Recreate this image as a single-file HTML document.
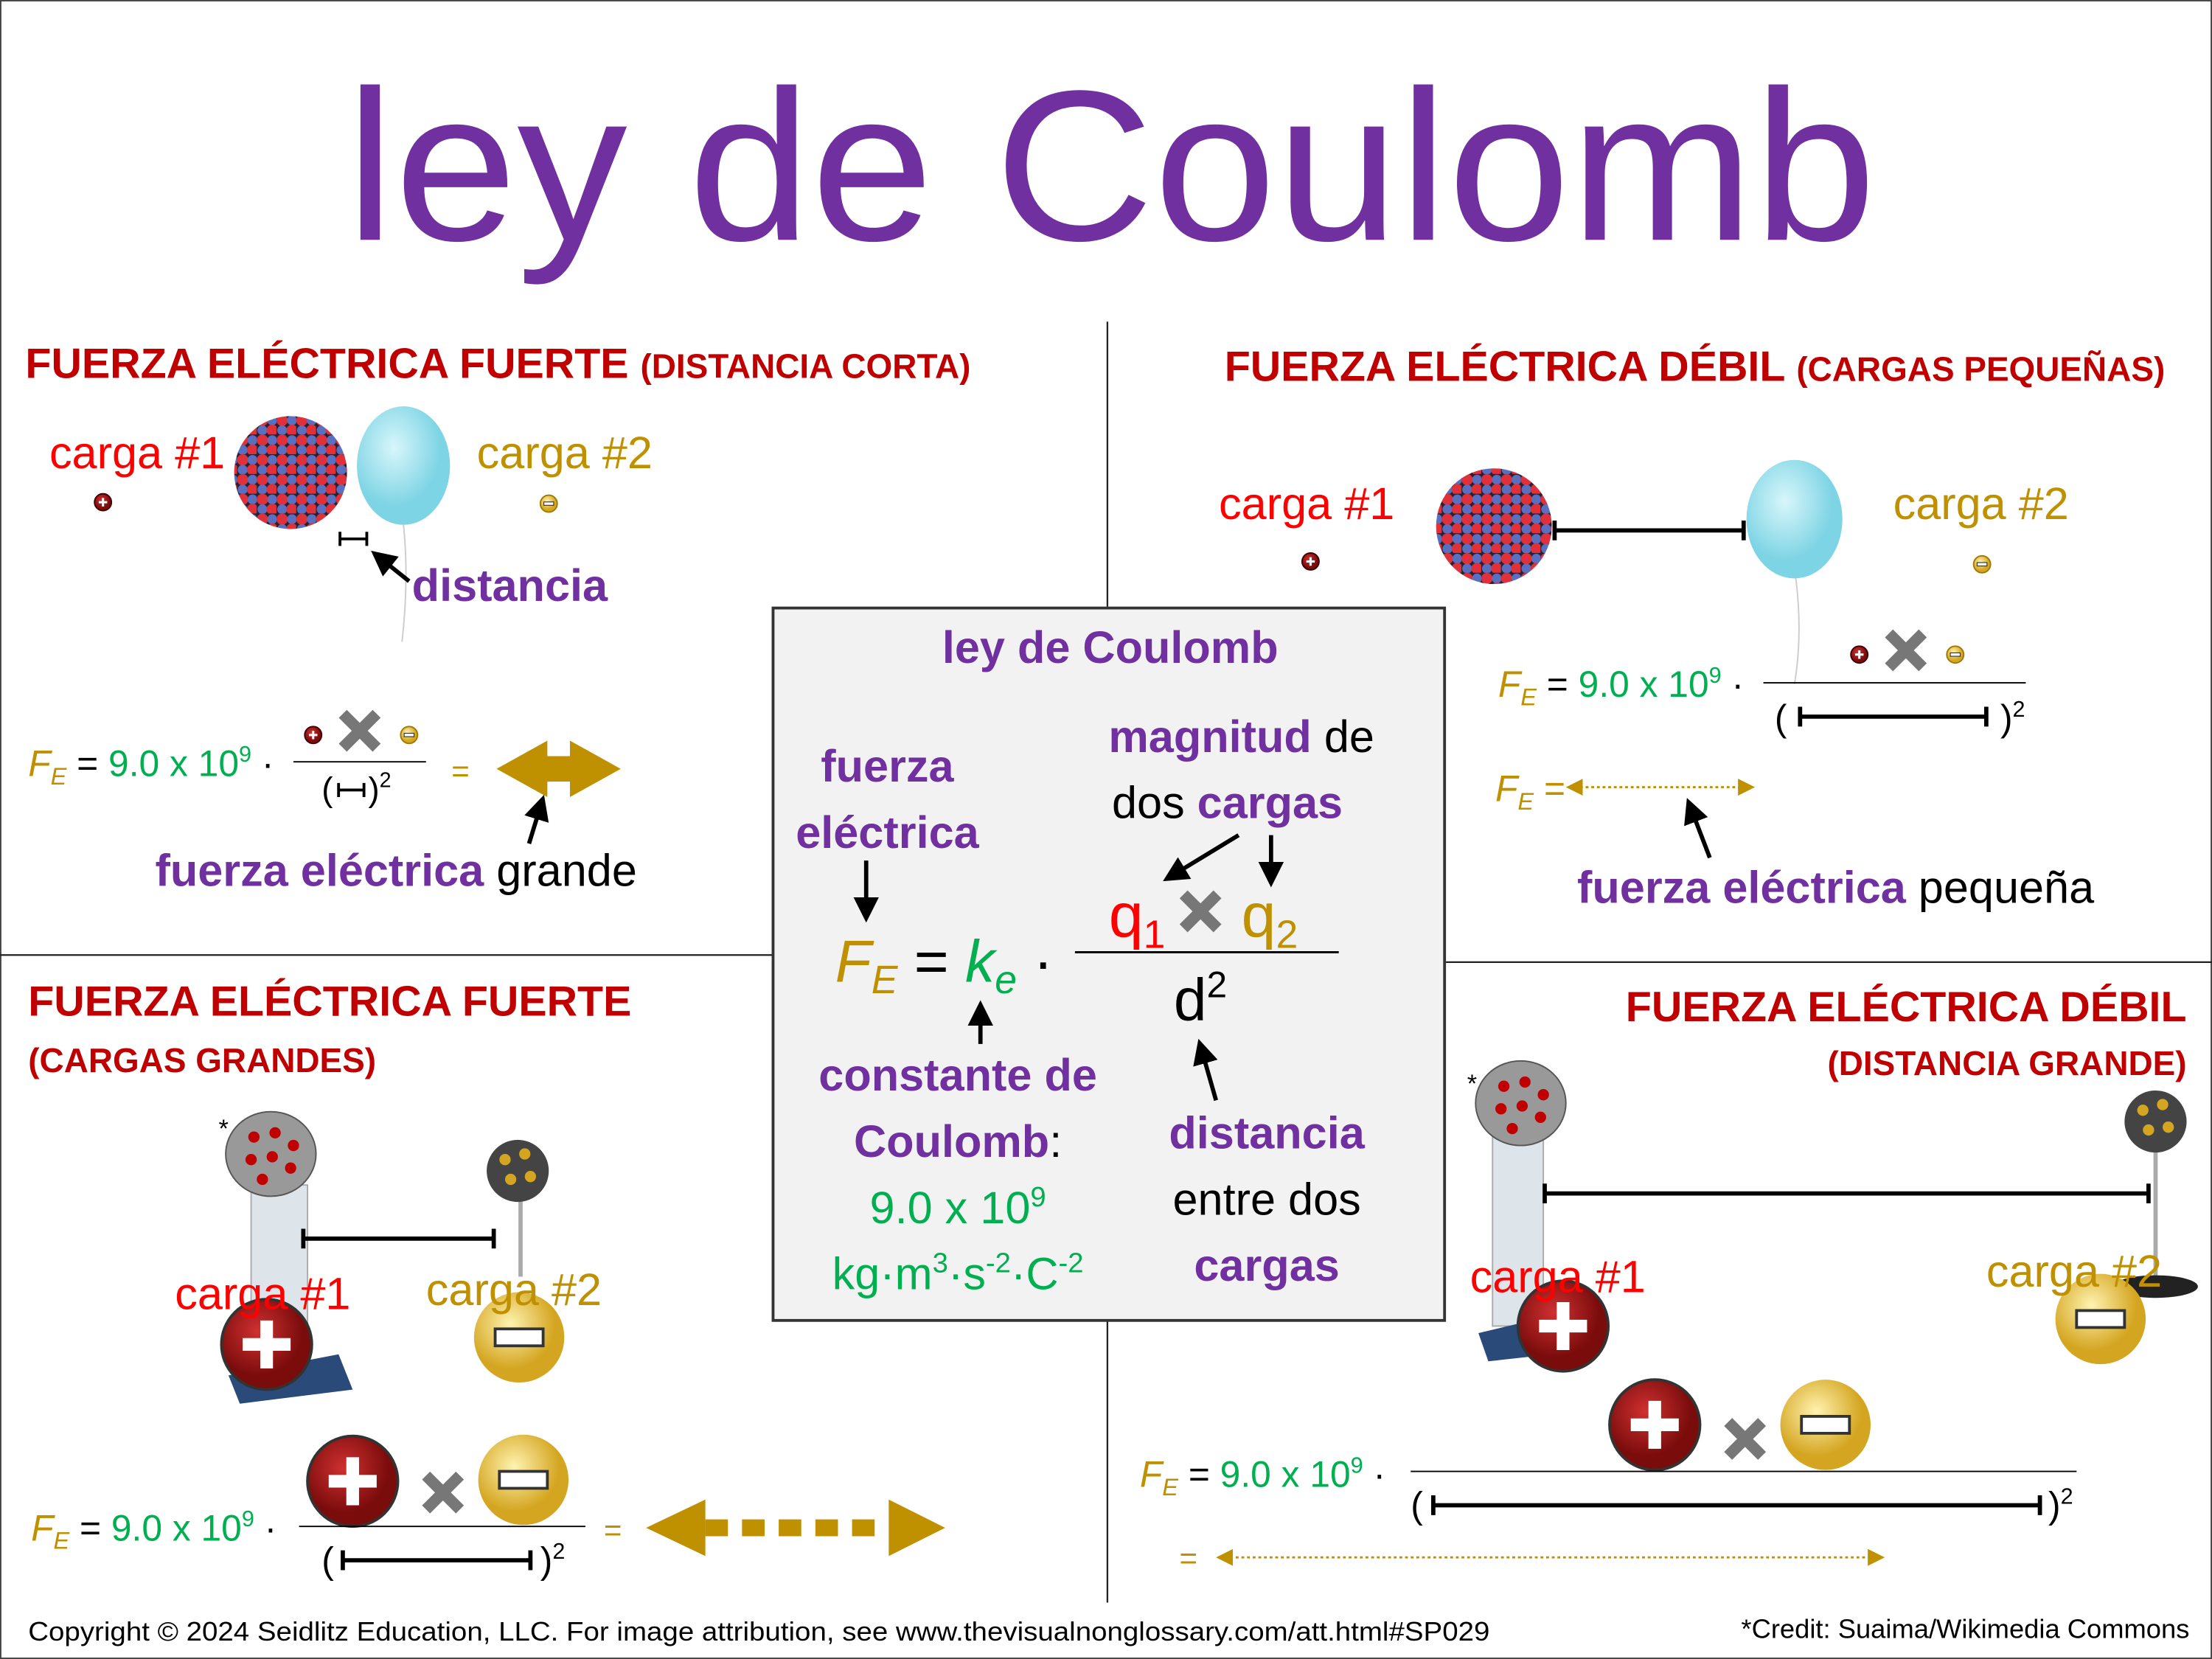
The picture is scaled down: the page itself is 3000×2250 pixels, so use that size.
<!DOCTYPE html>
<html><head><meta charset="utf-8"><style>
html,body{margin:0;padding:0;background:#fff}
svg{display:block}
text{font-family:"Liberation Sans",sans-serif}
</style></head><body>
<svg width="3000" height="2250" viewBox="0 0 1568 1176" xmlns="http://www.w3.org/2000/svg">
<defs>
<pattern id="mol" width="14" height="14" patternUnits="userSpaceOnUse">
<rect width="14" height="14" fill="#223"/>
<circle cx="4" cy="4" r="4" fill="#e0303a"/><circle cx="11" cy="4" r="3.5" fill="#5a6fc0"/>
<circle cx="4" cy="11" r="3.5" fill="#5a6fc0"/><circle cx="11" cy="11" r="4" fill="#e0303a"/>
</pattern>
<radialGradient id="gold" cx="40%" cy="35%"><stop offset="0" stop-color="#fff3b0"/><stop offset="1" stop-color="#d4a520"/></radialGradient>
<radialGradient id="redb" cx="40%" cy="35%"><stop offset="0" stop-color="#d03030"/><stop offset="1" stop-color="#7a0c0c"/></radialGradient>
<radialGradient id="bal" cx="40%" cy="35%"><stop offset="0" stop-color="#d8f6fb"/><stop offset="1" stop-color="#7dd4e4"/></radialGradient>
<marker id="ah" markerWidth="6" markerHeight="6" refX="3" refY="3" orient="auto"><path d="M0,0L6,3L0,6z" fill="#000"/></marker>
<marker id="gh" markerWidth="8" markerHeight="8" refX="4" refY="4" orient="auto"><path d="M0,0L8,4L0,8z" fill="#bf9000"/></marker>
<marker id="gt" markerWidth="8" markerHeight="8" refX="4" refY="4" orient="auto-start-reverse"><path d="M0,0L8,4L0,8z" fill="#bf9000"/></marker>
<g id="plus"><circle r="6" fill="url(#redb)" stroke="#400" stroke-width="1"/><path d="M-3,0H3M0,-3V3" stroke="#fff" stroke-width="1.6"/></g>
<g id="minus"><circle r="6" fill="url(#gold)" stroke="#a07a00" stroke-width="1"/><rect x="-3.5" y="-1.2" width="7" height="2.4" fill="#fff" stroke="#333" stroke-width=".6"/></g>
<g id="bplus"><circle r="32" fill="url(#redb)" stroke="#333" stroke-width="2"/><path d="M-17,0H17M0,-17V17" stroke="#fff" stroke-width="9"/></g>
<g id="bminus"><circle r="32" fill="url(#gold)"/><rect x="-17" y="-6" width="34" height="12" fill="#fff" stroke="#333" stroke-width="2"/></g>
<g id="x"><path d="M-12,-12L12,12M12,-12L-12,12" stroke="#777" stroke-width="8"/></g>
</defs>
<rect x="0.5" y="0.5" width="1567" height="1175" fill="#fff" stroke="#444"/>
<text x="245" y="170" font-size="152" fill="#7030a0" textLength="1085" lengthAdjust="spacingAndGlyphs">ley de Coulomb</text>
<path d="M785,228V430M785,936V1136M0,677H548M1025,682H1568" stroke="#222" stroke-width="1.2"/>

<!-- TOP LEFT -->
<text x="18" y="268" font-size="30" font-weight="bold" fill="#c00000">FUERZA ELÉCTRICA FUERTE <tspan font-size="24">(DISTANCIA CORTA)</tspan></text>
<text x="35" y="332" font-size="32" fill="#f00">carga #1</text>
<text x="338" y="332" font-size="32" fill="#bf9000">carga #2</text>
<use href="#plus" x="73" y="356"/><use href="#minus" x="389" y="357"/>
<circle cx="206" cy="335" r="40" fill="url(#mol)"/>
<ellipse cx="286" cy="330" rx="33" ry="42" fill="url(#bal)"/>
<path d="M286,372Q290,410 285,455" stroke="#ccc" fill="none"/>
<path d="M241,382H260M241,377V387M260,377V387" stroke="#000" stroke-width="2"/>
<path d="M290,412L270,396" stroke="#000" stroke-width="3" marker-end="url(#ah)"/>
<text x="292" y="426" font-size="32" font-weight="bold" fill="#7030a0">distancia</text>
<text x="20" y="550" font-size="26"><tspan fill="#bf9000" font-style="italic">F<tspan font-size="17" dy="6">E</tspan></tspan><tspan dy="-6"> = </tspan><tspan fill="#00b050">9.0 x 10<tspan font-size="16" dy="-10">9</tspan></tspan><tspan dy="10"> ·</tspan></text>
<use href="#plus" x="222" y="521"/><use href="#x" x="255" y="518"/><use href="#minus" x="290" y="521"/>
<path d="M208,540H302" stroke="#000"/>
<text x="228" y="568" font-size="24">(</text>
<path d="M240,560H258M240,555V565M258,555V565" stroke="#000" stroke-width="2"/>
<text x="261" y="568" font-size="24">)<tspan font-size="15" dy="-10">2</tspan></text>
<text x="320" y="554" font-size="22" fill="#bf9000">=</text>
<path d="M352,545L388,525V536H404V525L440,545L404,565V554H388V565Z" fill="#bf9000"/>
<path d="M375,598L383,572" stroke="#000" stroke-width="3" marker-end="url(#ah)"/>
<text x="110" y="628" font-size="32"><tspan fill="#7030a0" font-weight="bold">fuerza eléctrica</tspan> grande</text>

<!-- TOP RIGHT -->
<text x="868" y="270" font-size="30" font-weight="bold" fill="#c00000">FUERZA ELÉCTRICA DÉBIL <tspan font-size="24">(CARGAS PEQUEÑAS)</tspan></text>
<text x="864" y="368" font-size="32" fill="#f00">carga #1</text>
<text x="1342" y="368" font-size="32" fill="#bf9000">carga #2</text>
<use href="#plus" x="929" y="398"/><use href="#minus" x="1405" y="400"/>
<circle cx="1059" cy="373" r="41" fill="url(#mol)"/>
<ellipse cx="1272" cy="368" rx="34" ry="42" fill="url(#bal)"/>
<path d="M1273,410Q1278,450 1272,485" stroke="#ccc" fill="none"/>
<path d="M1102,376H1236M1102,369V383M1236,369V383" stroke="#000" stroke-width="3"/>
<text x="1062" y="494" font-size="26"><tspan fill="#bf9000" font-style="italic">F<tspan font-size="17" dy="6">E</tspan></tspan><tspan dy="-6"> = </tspan><tspan fill="#00b050">9.0 x 10<tspan font-size="16" dy="-10">9</tspan></tspan><tspan dy="10"> ·</tspan></text>
<use href="#plus" x="1318" y="464"/><use href="#x" x="1351" y="461"/><use href="#minus" x="1386" y="464"/>
<path d="M1250,484H1436" stroke="#000"/>
<text x="1258" y="518" font-size="26">(</text>
<path d="M1276,508H1408M1276,501V515M1408,501V515" stroke="#000" stroke-width="3"/>
<text x="1418" y="518" font-size="26">)<tspan font-size="16" dy="-10">2</tspan></text>
<text x="1060" y="568" font-size="26"><tspan fill="#bf9000" font-style="italic">F<tspan font-size="17" dy="6">E</tspan></tspan><tspan fill="#bf9000" dy="-6"> =</tspan></text>
<path d="M1116,558H1238" stroke="#bf9000" stroke-width="1.5" stroke-dasharray="2,2" marker-start="url(#gt)" marker-end="url(#gh)"/>
<path d="M1212,608L1199,574" stroke="#000" stroke-width="3" marker-end="url(#ah)"/>
<text x="1118" y="640" font-size="32"><tspan fill="#7030a0" font-weight="bold">fuerza eléctrica</tspan> pequeña</text>

<!-- CENTER BOX -->
<rect x="548" y="431" width="476" height="505" fill="#f2f2f2" stroke="#333" stroke-width="2"/>
<g font-size="32" text-anchor="middle">
<text x="787" y="470" fill="#7030a0" font-weight="bold">ley de Coulomb</text>
<text x="629" y="554" fill="#7030a0" font-weight="bold">fuerza</text>
<text x="629" y="601" fill="#7030a0" font-weight="bold">eléctrica</text>
<text x="880" y="533"><tspan fill="#7030a0" font-weight="bold">magnitud</tspan> de</text>
<text x="870" y="580">dos <tspan fill="#7030a0" font-weight="bold">cargas</tspan></text>
<text x="679" y="773" fill="#7030a0" font-weight="bold">constante de</text>
<text x="679" y="820"><tspan fill="#7030a0" font-weight="bold">Coulomb</tspan>:</text>
<text x="679" y="867" fill="#00b050">9.0 x 10<tspan font-size="20" dy="-12">9</tspan></text>
<text x="679" y="914" fill="#00b050">kg·m<tspan font-size="20" dy="-12">3</tspan><tspan dy="12">·s</tspan><tspan font-size="20" dy="-12">-2</tspan><tspan dy="12">·C</tspan><tspan font-size="20" dy="-12">-2</tspan></text>
<text x="898" y="814" fill="#7030a0" font-weight="bold">distancia</text>
<text x="898" y="861">entre dos</text>
<text x="898" y="908" fill="#7030a0" font-weight="bold">cargas</text>
</g>
<text x="592" y="696" font-size="42"><tspan fill="#bf9000" font-style="italic">F<tspan font-size="28" dy="8">E</tspan></tspan><tspan dy="-8"> = </tspan><tspan fill="#00b050" font-style="italic">k<tspan font-size="28" dy="8">e</tspan></tspan><tspan dy="-8"> ·</tspan></text>
<text x="786" y="664" font-size="44" fill="#f00">q<tspan font-size="28" dy="8">1</tspan></text>
<use href="#x" x="851" y="646"/>
<text x="880" y="664" font-size="44" fill="#bf9000">q<tspan font-size="28" dy="8">2</tspan></text>
<path d="M762,675H949" stroke="#000" stroke-width="1.5"/>
<text x="832" y="723" font-size="42">d<tspan font-size="26" dy="-16">2</tspan></text>
<g stroke="#000" stroke-width="3">
<path d="M614,610V645" marker-end="url(#ah)"/>
<path d="M878,592L832,620" marker-end="url(#ah)"/>
<path d="M901,592V620" marker-end="url(#ah)"/>
<path d="M695,740V718" marker-end="url(#ah)"/>
<path d="M862,780L852,745" marker-end="url(#ah)"/>
</g>

<!-- BOTTOM LEFT -->
<text x="20" y="720" font-size="30" font-weight="bold" fill="#c00000">FUERZA ELÉCTRICA FUERTE</text>
<text x="20" y="760" font-size="24" font-weight="bold" fill="#c00000">(CARGAS GRANDES)</text>
<text x="155" y="806" font-size="18">*</text>
<rect x="178" y="840" width="40" height="100" fill="#dde4ea" stroke="#aaa"/>
<path d="M162,975L240,960L250,985L170,995Z" fill="#2a4a7a"/>
<ellipse cx="192" cy="818" rx="32" ry="30" fill="#999" stroke="#555"/>
<g fill="#c00000"><circle cx="180" cy="806" r="4"/><circle cx="195" cy="803" r="4"/><circle cx="208" cy="812" r="4"/><circle cx="178" cy="822" r="4"/><circle cx="193" cy="820" r="4"/><circle cx="206" cy="828" r="4"/><circle cx="186" cy="836" r="4"/></g>
<path d="M369,850V905" stroke="#aaa" stroke-width="3"/>
<circle cx="367" cy="830" r="22" fill="#444"/>
<g fill="#d4a520"><circle cx="358" cy="822" r="4"/><circle cx="372" cy="818" r="4"/><circle cx="362" cy="836" r="4"/><circle cx="376" cy="834" r="4"/></g>
<path d="M215,878H350M215,871V885M350,871V885" stroke="#000" stroke-width="3"/>
<use href="#bplus" x="189" y="953"/><use href="#bminus" x="368" y="948"/>
<text x="124" y="928" font-size="32" fill="#f00">carga #1</text>
<text x="302" y="925" font-size="32" fill="#bf9000">carga #2</text>
<text x="22" y="1092" font-size="26"><tspan fill="#bf9000" font-style="italic">F<tspan font-size="17" dy="6">E</tspan></tspan><tspan dy="-6"> = </tspan><tspan fill="#00b050">9.0 x 10<tspan font-size="16" dy="-10">9</tspan></tspan><tspan dy="10"> ·</tspan></text>
<use href="#bplus" x="250" y="1050"/>
<use href="#x" x="314" y="1058"/>
<use href="#bminus" x="371" y="1049"/>
<path d="M212,1082H415" stroke="#000"/>
<text x="228" y="1115" font-size="26">(</text>
<path d="M243,1106H376M243,1099V1113M376,1099V1113" stroke="#000" stroke-width="3"/>
<text x="383" y="1115" font-size="26">)<tspan font-size="16" dy="-10">2</tspan></text>
<text x="428" y="1092" font-size="22" fill="#bf9000">=</text>
<path d="M458,1083L500,1063V1103Z M630,1063L670,1083L630,1103Z" fill="#bf9000"/>
<path d="M500,1083H630" stroke="#bf9000" stroke-width="12" stroke-dasharray="16,10"/>

<!-- BOTTOM RIGHT -->
<text x="1550" y="724" font-size="30" font-weight="bold" fill="#c00000" text-anchor="end">FUERZA ELÉCTRICA DÉBIL</text>
<text x="1550" y="762" font-size="24" font-weight="bold" fill="#c00000" text-anchor="end">(DISTANCIA GRANDE)</text>
<text x="1040" y="774" font-size="18">*</text>
<rect x="1058" y="800" width="36" height="140" fill="#dde4ea" stroke="#aaa"/>
<path d="M1048,945L1090,935L1100,960L1055,965Z" fill="#2a4a7a"/>
<ellipse cx="1078" cy="782" rx="32" ry="30" fill="#999" stroke="#555"/>
<g fill="#c00000"><circle cx="1066" cy="770" r="4"/><circle cx="1081" cy="767" r="4"/><circle cx="1094" cy="776" r="4"/><circle cx="1064" cy="786" r="4"/><circle cx="1079" cy="784" r="4"/><circle cx="1092" cy="792" r="4"/><circle cx="1072" cy="800" r="4"/></g>
<path d="M1528,815V905" stroke="#aaa" stroke-width="3"/>
<ellipse cx="1528" cy="912" rx="30" ry="8" fill="#222"/>
<circle cx="1528" cy="795" r="22" fill="#444"/>
<g fill="#d4a520"><circle cx="1519" cy="787" r="4"/><circle cx="1533" cy="783" r="4"/><circle cx="1523" cy="801" r="4"/><circle cx="1537" cy="799" r="4"/></g>
<path d="M1095,846H1523M1095,839V853M1523,839V853" stroke="#000" stroke-width="3"/>
<use href="#bplus" x="1108" y="940"/><use href="#bminus" x="1489" y="935"/>
<text x="1042" y="916" font-size="32" fill="#f00">carga #1</text>
<text x="1408" y="912" font-size="32" fill="#bf9000">carga #2</text>
<use href="#bplus" x="1173" y="1010"/><use href="#x" x="1237" y="1020"/><use href="#bminus" x="1294" y="1010"/>
<text x="808" y="1054" font-size="26"><tspan fill="#bf9000" font-style="italic">F<tspan font-size="17" dy="6">E</tspan></tspan><tspan dy="-6"> =  </tspan><tspan fill="#00b050">9.0 x 10<tspan font-size="16" dy="-10">9</tspan></tspan><tspan dy="10"> ·</tspan></text>
<path d="M1000,1043H1472" stroke="#000"/>
<text x="1000" y="1076" font-size="26">(</text>
<path d="M1016,1067H1446M1016,1060V1074M1446,1060V1074" stroke="#000" stroke-width="3"/>
<text x="1452" y="1076" font-size="26">)<tspan font-size="16" dy="-10">2</tspan></text>
<text x="836" y="1112" font-size="22" fill="#bf9000">=</text>
<path d="M868,1104H1330" stroke="#bf9000" stroke-width="1.5" stroke-dasharray="2,2" marker-start="url(#gt)" marker-end="url(#gh)"/>

<!-- footer -->
<text x="20" y="1163" font-size="19" textLength="1036" lengthAdjust="spacingAndGlyphs">Copyright © 2024 Seidlitz Education, LLC.  For image attribution, see www.thevisualnonglossary.com/att.html#SP029</text>
<text x="1552" y="1161" font-size="19" text-anchor="end">*Credit: Suaima/Wikimedia Commons</text>
</svg>
</body></html>
